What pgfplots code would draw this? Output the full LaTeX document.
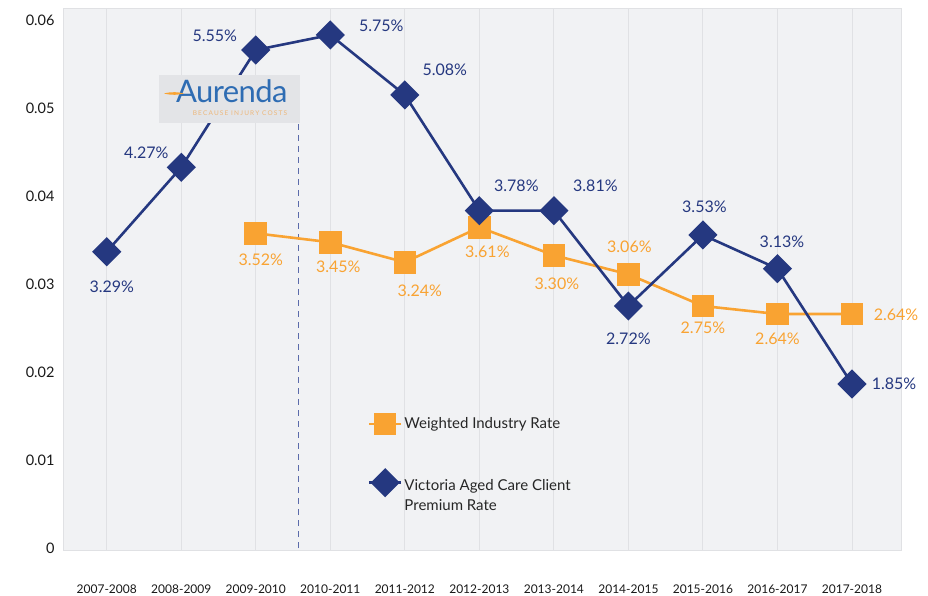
\documentclass[border=0pt]{standalone}
\usepackage{fontspec}
\setmainfont{Lato}
\usepackage{pgfplots}
\usepackage{pgfplotstable}
\pgfplotsset{compat=1.18}
\definecolor{navy}{HTML}{253880}
\definecolor{orng}{HTML}{F9A332}
\definecolor{bgc}{HTML}{F1F2F4}
\definecolor{gridc}{HTML}{E0E1E4}
\definecolor{logoblue}{HTML}{2E6CB3}
\definecolor{logobox}{HTML}{E3E4E7}
\definecolor{tagc}{HTML}{EDB77A}
\definecolor{dashc}{HTML}{5B6BAA}

% x  y(plotted)  label  dx dy (label offset, px)
\pgfplotstableread{
x y lab dx dy
0 0.03367 3.29 5 -35
1 0.04326 4.27 -35 14.6
2 0.05659 5.55 -41 14
3 0.05830 5.75 51 9
4 0.05148 5.08 40 25
5 0.03833 3.78 37 25
6 0.03833 3.81 41.5 25
7 0.02750 2.72 0 -33
8 0.03557 3.53 1.5 28
9 0.03174 3.13 4.5 27
10 0.01864 1.85 42 0
}\victoria

\pgfplotstableread{
x y lab dx dy
2 0.03576 3.52 5 -26
3 0.03474 3.45 8 -24
4 0.03247 3.24 15 -29
5 0.03644 3.61 8 -24
6 0.03326 3.30 3 -28
7 0.03110 3.06 1 27.6
8 0.02750 2.75 0 -22
9 0.02659 2.64 0 -25
10 0.02659 2.64 44 -1
}\industry

\begin{document}
\begin{tikzpicture}
\useasboundingbox (0,0) rectangle (928pt,596pt);
\begin{axis}[
  at={(63pt,46pt)}, anchor=south west,
  scale only axis, width=838pt, height=542pt,
  xmin=-0.587, xmax=10.658, ymin=-0.000227, ymax=0.061364,
  axis background/.style={fill=bgc},
  axis line style={draw=gridc, line width=0.9pt},
  xtick={0,1,2,3,4,5,6,7,8,9,10},
  xticklabels={2007-2008,2008-2009,2009-2010,2010-2011,2011-2012,2012-2013,2013-2014,2014-2015,2015-2016,2016-2017,2017-2018},
  ytick={0,0.01,0.02,0.03,0.04,0.05,0.06},
  yticklabels={0,0.01,0.02,0.03,0.04,0.05,0.06},
  major tick length=0pt,
  xmajorgrids, grid style={draw=gridc, line width=0.9pt},
  xticklabel style={font=\fontsize{12}{14}\selectfont, text=black!90, yshift=-31pt},
  yticklabel style={font=\fontsize{14.5}{17}\selectfont, text=black!90, xshift=-5pt},
  point meta=explicit symbolic,
  visualization depends on={\thisrow{dx}\as\dx},
  visualization depends on={\thisrow{dy}\as\dy},
  nodes near coords={\pgfplotspointmeta\%},
  nodes near coords style={anchor=center, xshift=\dx pt, yshift=\dy pt, font=\fontsize{16}{19}\selectfont},
  legend style={draw=none, fill=none, at={(0.360,0.255)}, anchor=north west,
    font=\fontsize{15}{19.5}\selectfont, text=black!85, row sep=36pt,
    cells={anchor=west, align=left}},
  legend image code/.code={\draw[mark repeat=2,mark phase=2] plot coordinates {(0pt,0pt) (16pt,0pt) (32pt,0pt)};},
]
\draw[dashc, dashed, line width=0.9pt, dash pattern=on 6pt off 5pt] (axis cs:2.572,0) -- (axis cs:2.572,0.0483);
\addplot[orng, line width=2.6pt, mark=square*, mark size=10pt,
  mark options={solid, fill=orng, draw=none},
  nodes near coords style={text=orng}] table[x=x, y=y, meta=lab] {\industry};
\addlegendentry{Weighted Industry Rate}
\addplot[navy, line width=2.6pt, mark=square*, mark size=9pt,
  mark options={solid, fill=navy, draw=none, rotate=45},
  nodes near coords style={text=navy},
  legend image code/.code={\draw[mark repeat=2,mark phase=2] plot coordinates {(0pt,13pt) (16pt,13pt) (32pt,13pt)};}
  ] table[x=x, y=y, meta=lab] {\victoria};
\addlegendentry{Victoria Aged Care Client\\Premium Rate}
\end{axis}
% logo
\fill[logobox] (159pt,473pt) rectangle (300pt,521pt);
\node[font=\fontsize{31}{32}\selectfont\addfontfeature{LetterSpace=-2}, text=logoblue, anchor=base west, inner sep=0pt] at (176pt,493pt) {Aurenda};
\fill[orng] (164pt,502.5pt) .. controls (172pt,504.5pt) and (178pt,504pt) .. (184pt,502.5pt) .. controls (178pt,501pt) and (172pt,500.5pt) .. cycle;
\node[font=\fontsize{6.5}{7}\selectfont\addfontfeature{LetterSpace=18}, text=tagc, inner sep=0pt] at (240pt,483pt) {BECAUSE INJURY COSTS};
\end{tikzpicture}
\end{document}
